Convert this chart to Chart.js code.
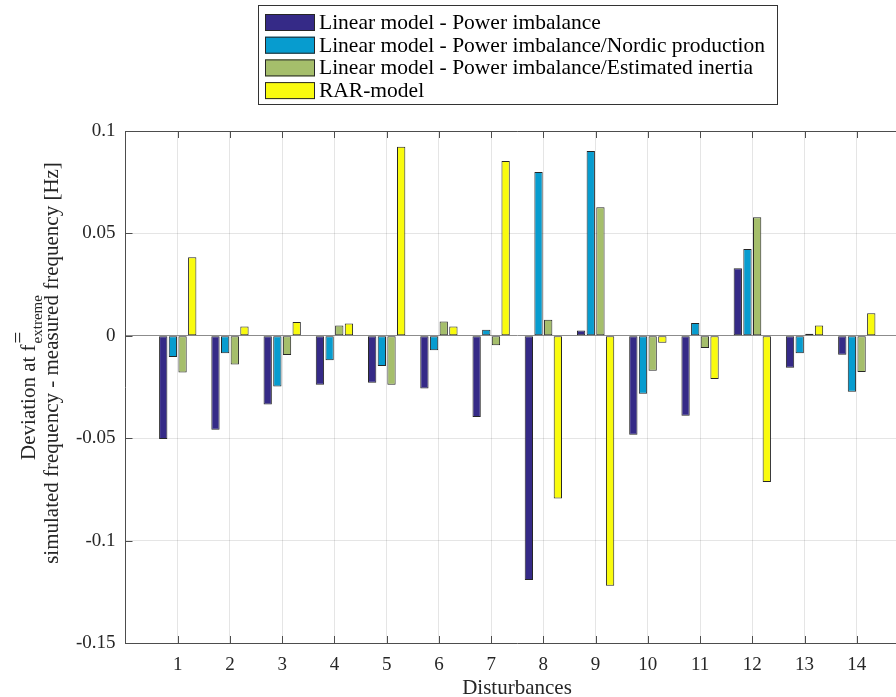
<!DOCTYPE html>
<html>
<head>
<meta charset="utf-8">
<script src="https://cdn.jsdelivr.net/npm/chart.js@4.4.1/dist/chart.umd.min.js"></script>
<style>
  html, body { margin: 0; padding: 0; background: #fff; overflow: hidden; }
  #wrap { width: 896px; height: 697px; overflow: hidden; }
</style>
</head>
<body>
<div id="wrap"><canvas id="c" width="920" height="697"></canvas></div>
<script>
// ---- Data ----
const categories = ['1','2','3','4','5','6','7','8','9','10','11','12','13','14'];
const seriesNames = [
  'Linear model - Power imbalance',
  'Linear model - Power imbalance/Nordic production',
  'Linear model - Power imbalance/Estimated inertia',
  'RAR-model'
];
const linearPowerImbalance = [-0.0504, -0.0459, -0.0335, -0.0239, -0.0229, -0.0257, -0.0397, -0.1192, 0.0026, -0.0483, -0.0390, 0.0330, -0.0156, -0.0093];
const linearNordicProduction = [-0.0104, -0.0085, -0.0247, -0.0119, -0.0148, -0.0070, 0.0029, 0.0800, 0.0902, -0.0283, 0.0063, 0.0424, -0.0085, -0.0273];
const linearEstimatedInertia = [-0.0179, -0.0140, -0.0094, 0.0050, -0.0239, 0.0070, -0.0046, 0.0078, 0.0628, -0.0171, -0.0060, 0.0579, 0.0010, -0.0177];
const rarModel = [0.0384, 0.0045, 0.0067, 0.0060, 0.0923, 0.0045, 0.0854, -0.0795, -0.1220, -0.0034, -0.0211, -0.0714, 0.0050, 0.0110];
const yTicks = [-0.15, -0.1, -0.05, 0, 0.05, 0.1];
const xTitle = 'Disturbances';
const yTitleLine1 = ['Deviation at f', 'extreme', '='];
const yTitleLine2 = 'simulated frequency - measured frequency [Hz]';

const colors = ['#352A87', '#079CCF', '#A5BE6B', '#F9FB0E'];
const SERIF = '"Liberation Serif", "DejaVu Serif", serif';

// padded labels so the axis spans one full slot each side (MATLAB-like limits 0..15)
const labels = [''].concat(categories, ['']);
const pad = arr => [null].concat(arr, [null]);
const allSeries = [linearPowerImbalance, linearNordicProduction, linearEstimatedInertia, rarModel];

const datasets = allSeries.map((arr, i) => ({
  label: seriesNames[i],
  data: pad(arr),
  backgroundColor: colors[i],
  borderColor: '#262626',
  borderWidth: 1,
  borderSkipped: false,
  categoryPercentage: 0.74,
  barPercentage: 0.86
}));

const fmt = v => { const n = Number(Number(v).toFixed(2)); return (n === 0 ? 0 : n).toString(); };

const decorPlugin = {
  id: 'decor',
  afterDraw(chart) {
    const ctx = chart.ctx;
    const a = chart.chartArea;
    const xs = chart.scales.x, ys = chart.scales.y;
    ctx.save();
    // top box line
    ctx.strokeStyle = '#4d4d4d';
    ctx.lineWidth = 1;
    ctx.beginPath();
    ctx.moveTo(a.left, Math.round(a.top) + 0.5);
    ctx.lineTo(a.right, Math.round(a.top) + 0.5);
    ctx.stroke();
    // inner ticks
    const tl = 7;
    ctx.beginPath();
    for (let i = 1; i <= categories.length; i++) {
      const x = Math.round(xs.getPixelForValue(i)) + 0.5;
      ctx.moveTo(x, a.bottom); ctx.lineTo(x, a.bottom - tl);
      ctx.moveTo(x, a.top); ctx.lineTo(x, a.top + tl);
    }
    yTicks.forEach(v => {
      const y = Math.round(ys.getPixelForValue(v)) + 0.5;
      ctx.moveTo(a.left, y); ctx.lineTo(a.left + tl, y);
    });
    ctx.stroke();

    // y-axis title (two lines, rotated)
    ctx.fillStyle = '#262626';
    ctx.textBaseline = 'alphabetic';
    ctx.textAlign = 'left';
    ctx.font = '21px ' + SERIF;
    const w2 = ctx.measureText(yTitleLine2).width;
    ctx.save();
    ctx.translate(58, 363);
    ctx.rotate(-Math.PI / 2);
    ctx.fillText(yTitleLine2, -w2 / 2, 0);
    ctx.restore();
    // line 1 with subscript
    ctx.save();
    ctx.font = '21px ' + SERIF;
    const wMain = ctx.measureText(yTitleLine1[0]).width;
    ctx.font = '15px ' + SERIF;
    const wSub = ctx.measureText(yTitleLine1[1]).width;
    const total = wMain + wSub;
    ctx.translate(35, 378);
    ctx.rotate(-Math.PI / 2);
    const x0 = -total / 2;
    ctx.font = '21px ' + SERIF;
    ctx.fillText(yTitleLine1[0], x0, 0);
    ctx.font = '15px ' + SERIF;
    ctx.fillText(yTitleLine1[1], x0 + wMain + 1, 7);
    ctx.font = '21px ' + SERIF;
    ctx.fillText(yTitleLine1[2], x0 + wMain + 1, -10);
    ctx.restore();

    // x title
    ctx.font = '21px ' + SERIF;
    ctx.textAlign = 'center';
    ctx.fillText(xTitle, 517, 694);

    // legend
    const bx = 258, by = 5, bw = 519, bh = 99;
    ctx.fillStyle = '#fff';
    ctx.fillRect(bx, by, bw, bh);
    ctx.strokeStyle = '#333';
    ctx.lineWidth = 1;
    ctx.strokeRect(bx + 0.5, by + 0.5, bw, bh);
    ctx.textAlign = 'left';
    ctx.font = '21.5px ' + SERIF;
    chart.data.datasets.forEach((ds, i) => {
      const cy = 22 + i * 22.7;
      ctx.fillStyle = ds.backgroundColor;
      ctx.fillRect(265, cy - 8, 50, 17);
      ctx.strokeStyle = '#262626';
      ctx.strokeRect(265.5, cy - 7.5, 49, 16);
      ctx.fillStyle = '#000';
      ctx.fillText(ds.label, 319, cy + 7);
    });
    ctx.restore();
  }
};

new Chart(document.getElementById('c'), {
  type: 'bar',
  data: { labels: labels, datasets: datasets },
  options: {
    responsive: false,
    animation: false,
    layout: { padding: { top: 131, right: 3, left: 0, bottom: 0 } },
    plugins: { legend: { display: false }, tooltip: { enabled: false } },
    scales: {
      x: {
        offset: false,
        grid: {
          offset: false,
          color: 'rgba(0,0,0,0.10)',
          lineWidth: 1,
          drawTicks: false
        },
        border: { display: true, color: '#4d4d4d', width: 1 },
        ticks: {
          color: '#262626',
          font: { family: SERIF, size: 19 },
          padding: 11,
          maxRotation: 0,
          autoSkip: false
        },
        afterFit(scale) { scale.height = 54; }
      },
      y: {
        min: -0.15,
        max: 0.1,
        afterBuildTicks(scale) { scale.ticks = yTicks.map(v => ({ value: v })); },
        grid: {
          color: ctx => (ctx.tick && Math.abs(ctx.tick.value) < 1e-9) ? '#8c8c8c' : 'rgba(0,0,0,0.10)',
          lineWidth: 1,
          drawTicks: false
        },
        border: { display: true, color: '#4d4d4d', width: 1 },
        ticks: {
          color: '#262626',
          font: { family: SERIF, size: 19 },
          padding: 10,
          callback: v => fmt(v)
        },
        afterFit(scale) { scale.width = 125.5; }
      }
    }
  },
  plugins: [decorPlugin]
});
</script>
</body>
</html>
